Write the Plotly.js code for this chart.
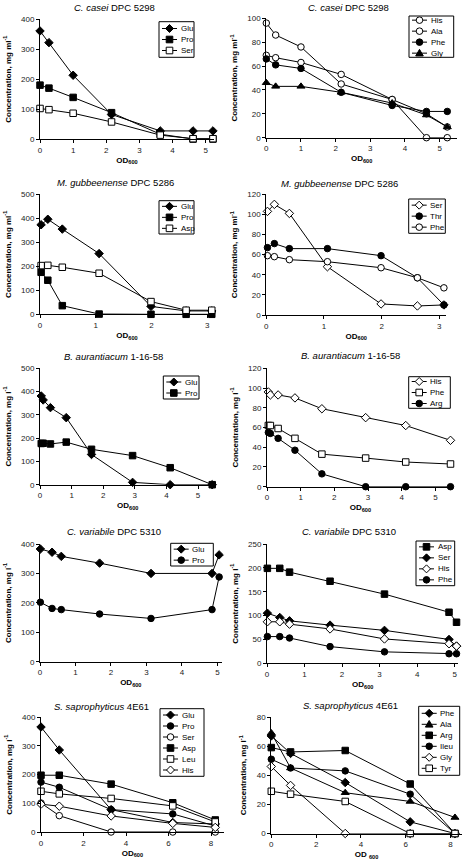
<!DOCTYPE html>
<html><head><meta charset="utf-8">
<script src="https://cdn.plot.ly/plotly-3.0.1.min.js"></script>
<style>html,body{margin:0;padding:0;background:#fff}#chart{width:463px;height:863px}</style>
</head><body><div id="chart"></div>
<script>
// ---------- DATA ----------
// C. casei DPC 5298
const od_casei = [0, 0.27, 1.0, 2.16, 3.63, 4.62, 5.22];
const casei_Glu = [361, 322, 213, 82, 27, 27, 27];
const casei_Pro = [180, 170, 139, 88, 16, 0, 0];
const casei_Ser = [102, 98, 86, 57, 13, 1, 1];
const casei_His = [96, 86, 76, 45, 32, 0, 0];
const casei_Ala = [69, 67, 63, 53, 32, 20, 9];
const casei_Phe = [66, 61, 58, 38, 27, 22, 22];
const casei_Gly = [46, 43, 43, 38, 29, 19, 9];
// M. gubbeenense DPC 5286
const od_gub = [0.02, 0.14, 0.4, 1.06, 1.99, 2.62, 3.08];
const gub_Glu = [373, 396, 355, 253, 33, 14, 14];
const gub_Pro = [175, 142, 36, 1, 0, 0, 0];
const gub_Asp = [203, 204, 196, 171, 53, 17, 17];
const gub_Ser = [103, 110, 101, 48, 11, 9, 10];
const gub_Thr = [67, 71, 66, 66, 59, 37, 10];
const gub_Phe = [59, 58, 55, 53, 47, 37, 27];
// B. aurantiacum 1-16-58
const od_bau = [0.04, 0.1, 0.33, 0.83, 1.63, 2.93, 4.12, 5.45];
const bau_Glu = [381, 364, 331, 288, 130, 10, 0, 0];
const bau_Pro = [177, 178, 175, 183, 152, 125, 73, 0];
const bau_His = [96, 93, 93, 90, 79, 70, 62, 47];
const bau_Phe = [62, 62, 59, 49, 33, 29, 25, 23];
const bau_Arg = [55, 54, 49, 37, 13, 0, 0, 0];
// C. variabile DPC 5310
const od_var = [0.01, 0.34, 0.6, 1.68, 3.13, 4.85, 5.05];
const var_Glu = [383, 372, 358, 335, 300, 300, 363];
const var_Pro = [202, 181, 177, 162, 147, 177, 288];
const var_Asp = [199, 199, 191, 172, 145, 107, 86];
const var_Ser = [105, 96, 89, 80, 69, 50, 36];
const var_His = [87, 87, 82, 72, 51, 41, 36];
const var_Phe = [56, 56, 53, 35, 24, 20, 20];
// S. saprophyticus 4E61
const od_sap = [0, 0.86, 3.3, 6.2, 8.2];
const sap_Glu = [366, 286, 78, 33, 28];
const sap_Pro = [174, 156, 78, 63, 21];
const sap_Ser = [101, 57, 0, 0, 0];
const sap_Asp = [198, 198, 167, 102, 42];
const sap_Leu = [142, 133, 117, 91, 35];
const sap_His = [97, 90, 56, 30, 16];
const sap_Phe = [67, 55, 35, 8, 0];
const sap_Ala = [69, 45, 28, 22, 11];
const sap_Arg = [59, 56, 57, 34, 0];
const sap_Ileu = [51, 45, 43, 27, 0];
const sap_Gly = [46, 33, 0, 0, 0];
const sap_Tyr = [29, 27, 22, 0, 0];

const titles = [
  '<i>C. casei</i> DPC 5298', '<i>C. casei</i> DPC 5298',
  '<i>M. gubbeenense</i> DPC 5286', '<i>M. gubbeenense</i> DPC 5286',
  '<i>B. aurantiacum</i> 1-16-58', '<i>B. aurantiacum</i> 1-16-58',
  '<i>C. variabile</i> DPC 5310', '<i>C. variabile</i> DPC 5310',
  '<i>S. saprophyticus</i> 4E61', '<i>S. saprophyticus</i> 4E61'
];
const ytitles = ['Concentration, mg ml<sup>-1</sup>','Concentration, mg ml<sup>-1</sup>',
  'Concentration, mg ml<sup>-1</sup>','Concentration, mg ml<sup>-1</sup>',
  'Concentration, mg l<sup>-1</sup>','Concentration, mg l<sup>-1</sup>',
  'Concentration, mg l<sup>-1</sup>','Concentration, mg l<sup>-1</sup>',
  'Concentration, mg l<sup>-1</sup>','Concentration, mg l<sup>-1</sup>'];
const xtitles = ['OD<sub>600</sub>','OD<sub>600</sub>','OD<sub>600</sub>','OD<sub>600</sub>','OD<sub>600</sub>',
  'OD<sub>600</sub>','OD<sub>600</sub>','OD<sub>600</sub>','OD<sub>600</sub>','OD <sub>600</sub>'];

// series: [name, x, y, symbol, filled]
const panelSeries = [
  [['Glu', od_casei, casei_Glu, 'diamond', 1], ['Pro', od_casei, casei_Pro, 'square', 1], ['Ser', od_casei, casei_Ser, 'square', 0]],
  [['His', od_casei, casei_His, 'circle', 0], ['Ala', od_casei, casei_Ala, 'circle', 0], ['Phe', od_casei, casei_Phe, 'circle', 1], ['Gly', od_casei, casei_Gly, 'triangle-up', 1]],
  [['Glu', od_gub, gub_Glu, 'diamond', 1], ['Pro', od_gub, gub_Pro, 'square', 1], ['Asp', od_gub, gub_Asp, 'square', 0]],
  [['Ser', od_gub, gub_Ser, 'diamond', 0], ['Thr', od_gub, gub_Thr, 'circle', 1], ['Phe', od_gub, gub_Phe, 'circle', 0]],
  [['Glu', od_bau, bau_Glu, 'diamond', 1], ['Pro', od_bau, bau_Pro, 'square', 1]],
  [['His', od_bau, bau_His, 'diamond', 0], ['Phe', od_bau, bau_Phe, 'square', 0], ['Arg', od_bau, bau_Arg, 'circle', 1]],
  [['Glu', od_var, var_Glu, 'diamond', 1], ['Pro', od_var, var_Pro, 'circle', 1]],
  [['Asp', od_var, var_Asp, 'square', 1], ['Ser', od_var, var_Ser, 'diamond', 1], ['His', od_var, var_His, 'diamond', 0], ['Phe', od_var, var_Phe, 'circle', 1]],
  [['Glu', od_sap, sap_Glu, 'diamond', 1], ['Pro', od_sap, sap_Pro, 'circle', 1], ['Ser', od_sap, sap_Ser, 'circle', 0], ['Asp', od_sap, sap_Asp, 'square', 1], ['Leu', od_sap, sap_Leu, 'square', 0], ['His', od_sap, sap_His, 'diamond', 0]],
  [['Phe', od_sap, sap_Phe, 'diamond', 1], ['Ala', od_sap, sap_Ala, 'triangle-up', 1], ['Arg', od_sap, sap_Arg, 'square', 1], ['Ileu', od_sap, sap_Ileu, 'circle', 1], ['Gly', od_sap, sap_Gly, 'diamond', 0], ['Tyr', od_sap, sap_Tyr, 'square', 0]]
];

// ---------- LAYOUT GEOMETRY (pixels) ----------
const W = 463, H = 863;
// plot area / axis geometry, title centre, legend box (left, top, width, height)
const geo = [
  {x0:40,    ppu:33.13, xmax:5.25, top:19.3,  bot:139,   ymax:400, dy:100, dx:1, tx:114,  ty:7.5,   lg:[159, 21.7, 35, 35.6]},
  {x0:266.3, ppu:34.67, xmax:5.5,  top:18.3,  bot:137.7, ymax:100, dy:20,  dx:1, tx:348,  ty:7.5,   lg:[409, 16, 44.7, 41.3]},
  {x0:40,    ppu:55.77, xmax:3.12, top:194.3, bot:314.3, ymax:500, dy:100, dx:1, tx:115,  ty:182.5, lg:[159, 200.7, 35, 33.3]},
  {x0:266.3, ppu:57.67, xmax:3.12, top:194.3, bot:315,   ymax:120, dy:20,  dx:1, tx:339,  ty:184,   lg:[408.7, 199, 36.6, 34.3]},
  {x0:40,    ppu:31.6,  xmax:5.55, top:368.3, bot:484.7, ymax:500, dy:100, dx:1, tx:113,  ty:356.5, lg:[163.3, 376, 35.7, 23]},
  {x0:267,   ppu:33.67, xmax:5.55, top:368.3, bot:486.7, ymax:120, dy:20,  dx:1, tx:350,  ty:355,   lg:[408.7, 376.7, 41.6, 31.6]},
  {x0:40,    ppu:35.47, xmax:5.12, top:544,   bot:661.7, ymax:400, dy:100, dx:1, tx:113.5,ty:531,   lg:[170.7, 543.3, 42.6, 22.7]},
  {x0:267,   ppu:37.53, xmax:5.1,  top:544,   bot:663.3, ymax:250, dy:50,  dx:1, tx:349,  ty:531,   lg:[416, 541, 38.7, 44.7]},
  {x0:41,    ppu:21.25, xmax:8.6,  top:717.3, bot:832,   ymax:400, dy:100, dx:2, tx:101.5,ty:706,   lg:[160, 708.7, 44, 67.6]},
  {x0:271.3, ppu:22.4,  xmax:8.5,  top:717,   bot:833.5, ymax:80,  dy:20,  dx:2, tx:350,  ty:705,   lg:[418.7, 706.3, 41, 69]}
];

const FONT = 'Liberation Sans, Arial, sans-serif';
const traces = [];
const layout = {
  width: W, height: H, margin: {l:0, r:0, t:0, b:0},
  paper_bgcolor: '#fff', plot_bgcolor: '#fff',
  font: {family: FONT, color: '#000', size: 8},
  annotations: [], shapes: [], showlegend: false
};
const px = v => v / W, py = v => 1 - v / H;
const markerSize = {diamond: 6.5, square: 6.5, circle: 6.5, 'triangle-up': 7};

function keyMarker(sym, filled, xp, yp) {
  const base = {xref: 'paper', yref: 'paper', xsizemode: 'pixel', ysizemode: 'pixel',
    xanchor: px(xp), yanchor: py(yp), layer: 'above',
    line: {color: '#000', width: 1}, fillcolor: filled ? '#000' : '#fff'};
  if (sym === 'square') return Object.assign(base, {type: 'rect', x0: -3.3, x1: 3.3, y0: -3.3, y1: 3.3});
  if (sym === 'circle') return Object.assign(base, {type: 'circle', x0: -3.3, x1: 3.3, y0: -3.3, y1: 3.3});
  if (sym === 'diamond') return Object.assign(base, {type: 'path', path: 'M0,4 L4,0 L0,-4 L-4,0 Z'});
  return Object.assign(base, {type: 'path', path: 'M-3.8,-2.8 L3.8,-2.8 L0,3.8 Z'});
}

geo.forEach((g, i) => {
  const n = i + 1;
  const xa = 'xaxis' + (n === 1 ? '' : n), ya = 'yaxis' + (n === 1 ? '' : n);
  const xr = 'x' + (n === 1 ? '' : n), yr = 'y' + (n === 1 ? '' : n);
  const xEnd = g.x0 + g.ppu * g.xmax;
  layout[xa] = {
    domain: [px(g.x0), px(xEnd)], anchor: yr, range: [0, g.xmax],
    dtick: g.dx, tick0: 0, showgrid: false, zeroline: false,
    showline: true, linecolor: '#000', linewidth: 1,
    ticks: 'outside', ticklen: 3, tickcolor: '#000', tickwidth: 1,
    tickfont: {size: 8, color: '#222', family: FONT},
    title: {text: '<b>' + xtitles[i] + '</b>', font: {size: 8, family: FONT, color: '#000'}, standoff: 3}
  };
  layout[ya] = {
    domain: [py(g.bot), py(g.top)], anchor: xr, range: [0, g.ymax],
    dtick: g.dy, tick0: 0, showgrid: false, zeroline: false,
    showline: true, linecolor: '#000', linewidth: 1,
    ticks: 'outside', ticklen: 3, tickcolor: '#000', tickwidth: 1,
    tickfont: {size: 8, color: '#222', family: FONT},
    title: {text: '<b>' + ytitles[i] + '</b>', font: {size: 8, family: FONT, color: '#000'}, standoff: 8}
  };
  layout.annotations.push({
    text: titles[i], xref: 'paper', yref: 'paper', x: px(g.tx), y: py(g.ty),
    xanchor: 'center', yanchor: 'middle', showarrow: false,
    font: {size: 9.5, family: FONT, color: '#000'}
  });

  // legend box (built from the series names and symbols)
  const [lx, ly, lw, lh] = g.lg;
  const ser = panelSeries[i];
  layout.shapes.push({type: 'rect', xref: 'paper', yref: 'paper', layer: 'above',
    x0: px(lx), x1: px(lx + lw), y0: py(ly + lh), y1: py(ly),
    fillcolor: '#fff', line: {color: '#000', width: 1}});
  const step = 11;
  const first = ly + (lh - (ser.length - 1) * step) / 2;
  ser.forEach((s, k) => {
    const yk = first + k * step;
    layout.shapes.push({type: 'line', xref: 'paper', yref: 'paper', layer: 'above',
      x0: px(lx + 3), x1: px(lx + 18), y0: py(yk), y1: py(yk), line: {color: '#000', width: 1}});
    layout.shapes.push(keyMarker(s[3], s[4], lx + 10.5, yk));
    layout.annotations.push({text: s[0], xref: 'paper', yref: 'paper', x: px(lx + 20.5), y: py(yk),
      xanchor: 'left', yanchor: 'middle', showarrow: false, borderpad: 0,
      font: {size: 8, family: FONT, color: '#000'}});
  });

  ser.forEach(s => {
    traces.push({
      type: 'scatter', mode: 'lines+markers', name: s[0], x: s[1], y: s[2],
      xaxis: xr, yaxis: yr, cliponaxis: false, showlegend: false,
      line: {color: '#000', width: 1},
      marker: {symbol: s[3], size: markerSize[s[3]], color: s[4] ? '#000' : '#fff', line: {color: '#000', width: 1}}
    });
  });
});

Plotly.newPlot('chart', traces, layout, {displayModeBar: false});
</script></body></html>
